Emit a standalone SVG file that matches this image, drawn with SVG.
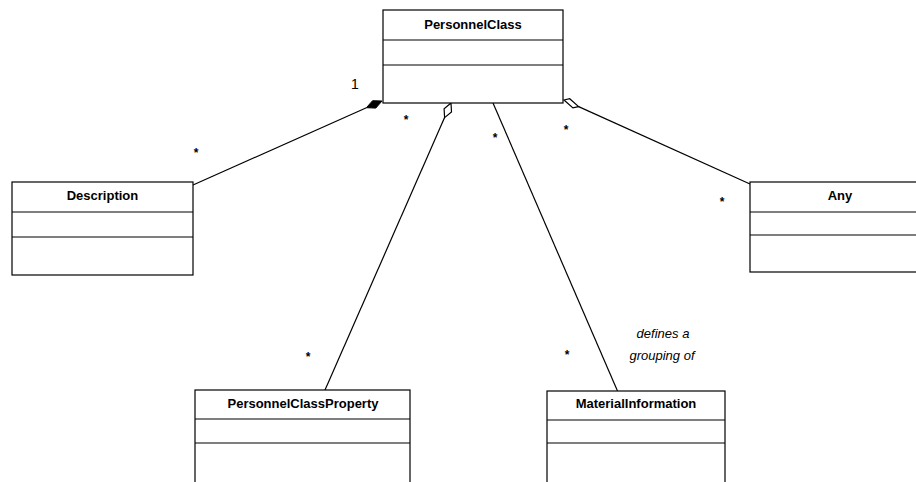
<svg xmlns="http://www.w3.org/2000/svg" width="916" height="482" viewBox="0 0 916 482">
<style>
.box{fill:#fff;stroke:#000;stroke-width:1.2}
.div{stroke:#000;stroke-width:1.2}
.title{font-family:"Liberation Sans",Arial,sans-serif;font-size:13px;font-weight:bold;text-anchor:middle;fill:#000}
.conn{stroke:#000;stroke-width:1.2;fill:none}
.star{font-family:"Liberation Sans",Arial,sans-serif;font-size:12px;font-weight:bold;text-anchor:middle;fill:#000}
.lbl{font-family:"Liberation Sans",Arial,sans-serif;font-size:13px;font-style:italic;text-anchor:middle;fill:#000}
.mult{font-family:"Liberation Sans",Arial,sans-serif;font-size:14px;text-anchor:middle;fill:#000}
</style>
<rect width="916" height="482" fill="#fff"/>
<g id="connectors">
<line class="conn" x1="366.4" y1="107.7" x2="193" y2="185"/>
<polygon points="382,101 375.8,108.1 366.4,107.7 372.6,100.7" fill="#000" stroke="#000" stroke-width="1"/>
<line class="conn" x1="444.6" y1="117.6" x2="325" y2="390"/>
<polygon points="451,103 451.5,111.9 444.6,117.6 444.1,108.7" fill="#fff" stroke="#000" stroke-width="1.2"/>
<line class="conn" x1="493" y1="103" x2="617.5" y2="391"/>
<line class="conn" x1="578.6" y1="106.6" x2="750" y2="184"/>
<polygon points="564,100 569.7,98.7 578.6,106.6 572.9,107.9" fill="#fff" stroke="#000" stroke-width="1.2"/>
<text class="mult" x="355" y="89">1</text>
<text class="star" x="196" y="157">*</text>
<text class="star" x="406" y="124">*</text>
<text class="star" x="495" y="142">*</text>
<text class="star" x="566" y="134">*</text>
<text class="star" x="722" y="206">*</text>
<text class="star" x="308" y="361">*</text>
<text class="star" x="567" y="359">*</text>
<text class="lbl" x="663" y="338">defines a</text>
<text class="lbl" x="662" y="360">grouping of</text>
</g>
<g id="PersonnelClass">
<rect class="box" x="383" y="10" width="180" height="93"/>
<line class="div" x1="383" y1="40" x2="563" y2="40"/>
<line class="div" x1="383" y1="65" x2="563" y2="65"/>
<text class="title" x="473" y="29">PersonnelClass</text>
</g>
<g id="Description">
<rect class="box" x="12" y="182" width="181" height="93"/>
<line class="div" x1="12" y1="212" x2="193" y2="212"/>
<line class="div" x1="12" y1="237" x2="193" y2="237"/>
<text class="title" x="102.5" y="200">Description</text>
</g>
<g id="Any">
<rect class="box" x="750" y="182" width="180" height="90"/>
<line class="div" x1="750" y1="212" x2="930" y2="212"/>
<line class="div" x1="750" y1="235" x2="930" y2="235"/>
<text class="title" x="840" y="200">Any</text>
</g>
<g id="PersonnelClassProperty">
<rect class="box" x="195" y="390" width="215" height="100"/>
<line class="div" x1="195" y1="419" x2="410" y2="419"/>
<line class="div" x1="195" y1="443" x2="410" y2="443"/>
<text class="title" x="303" y="408">PersonnelClassProperty</text>
</g>
<g id="MaterialInformation">
<rect class="box" x="547" y="391" width="178" height="100"/>
<line class="div" x1="547" y1="420" x2="725" y2="420"/>
<line class="div" x1="547" y1="443" x2="725" y2="443"/>
<text class="title" x="636" y="408">MaterialInformation</text>
</g>
</svg>
